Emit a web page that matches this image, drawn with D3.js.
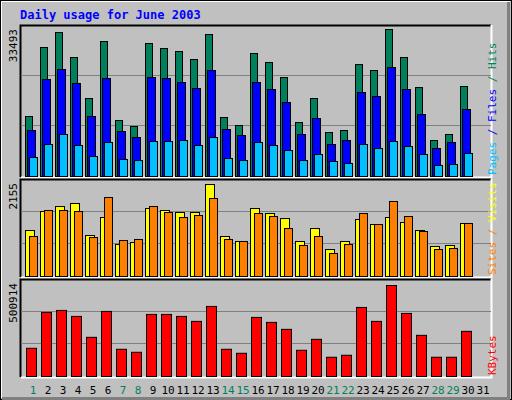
<!DOCTYPE html>
<html>
<head>
<meta charset="utf-8">
<script src="https://cdn.jsdelivr.net/npm/d3@7"></script>
<style>
body{margin:0;background:#fff;}
text{font-family:"DejaVu Sans Mono",monospace;}
</style>
</head>
<body>
<script>
var days = d3.range(1, 32);
var weekend = [1, 7, 8, 14, 15, 21, 22, 28, 29];
var hits = [13670,29390,32800,27110,17770,30750,12760,11390,30300,29160,28480,26650,32350,13440,11620,28020,25970,22550,12300,17770,10020,10480,25510,24150,33493,27110,20270,8200,9570,20500,0];
var files = [10480,22100,24370,21190,13670,22320,10250,8880,22550,22320,21410,20050,24150,10710,9340,21410,19820,16860,9570,13210,7290,8200,19130,18220,24830,19820,14120,6380,7750,15260,0];
var pages = [4330,7290,9570,7060,4560,7750,3870,3640,7970,7970,8200,7060,8880,4100,3640,7750,7060,5920,3640,5010,3420,2960,7290,6380,7970,6830,5010,2510,2730,5240,0];
var sites = [1077,1522,1639,1710,960,1382,749,796,1593,1546,1499,1499,2155,937,820,1593,1475,1358,820,1124,632,820,1335,1218,1382,1265,1077,703,726,1241,0];
var visits = [937,1546,1546,1522,913,1850,843,867,1639,1499,1382,1429,1827,867,820,1475,1405,1124,726,937,539,749,1475,1218,1757,1405,1054,632,656,1241,0];
var kbytes = [155300,352800,363700,330800,215600,358200,149800,133300,341800,341800,330800,303400,385700,149800,127800,325300,297900,259500,144300,204600,105900,116900,380200,303400,500914,347300,226600,105900,105900,248500,0];

var svg = d3.select("body").append("svg").attr("width", 512).attr("height", 400);
svg.append("rect").attr("x", 0).attr("y", 0).attr("width", 512).attr("height", 400).attr("fill", "#c0c0c0");
svg.append("rect").attr("x", 0.5).attr("y", 0.5).attr("width", 511).attr("height", 399).attr("fill", "none").attr("stroke", "#000");
svg.append("path").attr("d", "M1.5,398V1.5H510").attr("fill", "none").attr("stroke", "#fff");
svg.append("path").attr("d", "M508.5,2V398.5H2").attr("fill", "none").attr("stroke", "#808080").attr("stroke-width", 3);

svg.append("text").attr("x", 20).attr("y", 19).attr("fill", "#0000ff").attr("font-weight", "bold")
  .attr("font-size", 12).text("Daily usage for June 2003");

var x = d3.scaleLinear().domain([1, 31]).range([25, 475]);

var panels = [
  {top: 25, bot: 177, base: 176, maxPx: 147, max: 33493, label: "33493",
   series: [{v: hits, c: "#00805c", dx: 0, w: 7}, {v: files, c: "#0000ff", dx: 2, w: 8}, {v: pages, c: "#00c0ff", dx: 4, w: 8}],
   right: [["Pages", "#00c0ff"], [" / ", "#0000ff"], ["Files", "#0000ff"], [" / ", "#00805c"], ["Hits", "#00805c"]]},
  {top: 179, bot: 277, base: 276, maxPx: 92, max: 2155, label: "2155",
   series: [{v: sites, c: "#ffff00", dx: 0, w: 9}, {v: visits, c: "#ff8000", dx: 4, w: 8}],
   right: [["Sites", "#ff8000"], [" / ", "#ff8000"], ["Visits", "#ffff00"]]},
  {top: 279, bot: 377, base: 376, maxPx: 91, max: 500914, label: "500914",
   series: [{v: kbytes, c: "#ff0000", dx: 1, w: 10}],
   right: [["KBytes", "#ff0000"]]}
];

panels.forEach(function(p) {
  var y = d3.scaleLinear().domain([0, p.max]).range([p.base, p.base - p.maxPx]);
  var h = p.bot - p.top;
  svg.append("path").attr("d", "M20.5," + p.bot + "V" + (p.top + 0.5) + "H491").attr("fill", "none").attr("stroke", "#000").attr("stroke-width", 2);
  svg.append("path").attr("d", "M21," + (p.bot + 0.5) + "H491.5V" + p.top).attr("fill", "none").attr("stroke", "#fff").attr("stroke-width", 2);
  [1, 2].forEach(function(k) {
    var gy = Math.round(p.base - (p.bot - p.top) * k / 3) + 0.5;
    svg.append("line").attr("x1", 21).attr("x2", 491).attr("y1", gy).attr("y2", gy).attr("stroke", "#808080");
  });
  p.series.forEach(function(s) {
    svg.append("g").selectAll("rect").data(days.filter(function(d) { return s.v[d - 1] > 0; })).enter().append("rect")
      .attr("x", function(d) { return x(d) + s.dx + 0.5; })
      .attr("y", function(d) { return y(s.v[d - 1]) + 0.5; })
      .attr("width", s.w)
      .attr("height", function(d) { return p.base - y(s.v[d - 1]); })
      .attr("fill", s.c).attr("stroke", "#000");
  });
  svg.append("text").attr("transform", "translate(17," + (p.top + 4) + ") rotate(-90)")
    .attr("text-anchor", "end").attr("font-size", 11).attr("fill", "#000").text(p.label);
  var t = svg.append("text").attr("transform", "translate(496," + (p.bot - 2) + ") rotate(-90)")
    .attr("font-size", 11);
  p.right.forEach(function(r) { t.append("tspan").attr("fill", r[1]).text(r[0]); });
});

svg.append("g").selectAll("text").data(days).enter().append("text")
  .attr("x", function(d) { return x(d) + 8; })
  .attr("y", 394)
  .attr("text-anchor", "middle")
  .attr("font-size", 11)
  .attr("fill", function(d) { return weekend.indexOf(d) >= 0 ? "#00805c" : "#000"; })
  .text(function(d) { return d; });
</script>
</body>
</html>
